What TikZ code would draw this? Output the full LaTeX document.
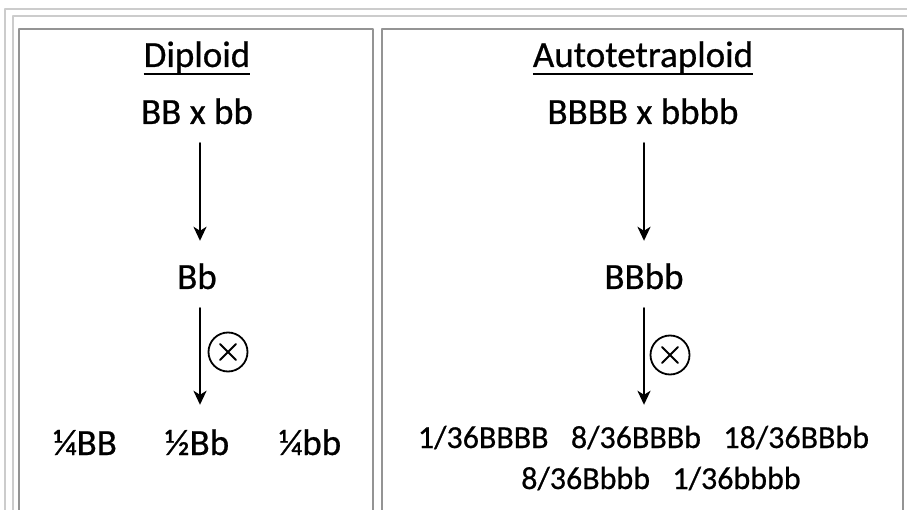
\documentclass[tikz,border=0pt]{standalone}
\usepackage{fontspec}
\setmainfont{Carlito}[FakeBold = 0.6]
\usetikzlibrary{arrows.meta}

% title with a heavier underline
\newcommand\titleline[1]{\setbox0\hbox{#1}\rlap{\rule[-8pt]{\wd0}{2.2pt}}\box0}

\begin{document}
\begin{tikzpicture}[x = 1pt, y = -1pt, line cap = round, line join = round,
  outerline/.style = {draw = black!20, line width = 1.6pt},
  panelline/.style = {draw = black!42, line width = 1.8pt},
  gen/.style = {font = \fontsize{37}{44}\selectfont, anchor = base,
    inner sep = 0pt, text height = 24pt, text depth = 0pt},
  ratiotext/.style = {font = \fontsize{32}{38}\selectfont, anchor = base,
    inner sep = 0pt, text height = 21pt, text depth = 0pt},
  crossarrow/.style = {-{Stealth[length = 14pt, width = 13pt, inset = 4pt]},
    line width = 2.4pt, shorten <= 19pt, shorten >= 24pt},
  selfing/.style = {circle, draw, line width = 1.8pt, minimum size = 39pt,
    inner sep = 0pt, path picture = {
      \draw[line width = 1.8pt]
        ([shift = {(-8pt, -8pt)}]path picture bounding box.center) --
        ([shift = {(8pt, 8pt)}]path picture bounding box.center)
        ([shift = {(-8pt, 8pt)}]path picture bounding box.center) --
        ([shift = {(8pt, -8pt)}]path picture bounding box.center);}}]
  \useasboundingbox (0, 0) rectangle (907, 510);

  % frame lines and the two panels
  \draw[outerline] (5, 515) -- (5, 9) -- (910, 9);
  \draw[outerline] (13, 515) -- (13, 16) -- (910, 16);
  \draw[panelline] (19, 515) -- (19, 29) -- (373, 29) -- (373, 515);
  \draw[panelline] (382, 515) -- (382, 29) -- (903, 29) -- (903, 515);

  % diploid
  \node[gen, text depth = 9pt] (titleL) at (197, 67) {\titleline{Diploid}};
  \node[gen] (crossL) at (197, 124) {BB x bb};
  \node[gen] (hybL) at (197, 289) {Bb};
  \node[gen] (quarterBL) at (85, 455) {¼BB};
  \node[gen] (halfL) at (197, 455) {½Bb};
  \node[gen] (quarterbL) at (310, 455) {¼bb};
  \node[selfing] (selfL) at (228, 352) {};

  \draw[crossarrow] ([xshift = 3pt]crossL.south) -- ([xshift = 3pt]hybL.north);
  \draw[crossarrow, shorten >= 26pt] ([xshift = 3pt]hybL.south) --
    ([xshift = 3pt]halfL.north);

  % autotetraploid
  \node[gen, text depth = 9pt] (titleR) at (643, 67)
    {\titleline{Autotetraploid}};
  \node[gen] (crossR) at (643, 124) {BBBB x bbbb};
  \node[gen] (hybR) at (644, 289) {BBbb};
  \node[ratiotext] (offR1) at (643.5, 448)
    {1/36BBBB\hspace{0.7em}8/36BBBb\hspace{0.7em}18/36BBbb};
  \node[ratiotext] (offR2) at (661, 489) {8/36Bbbb\hspace{0.7em}1/36bbbb};
  \node[selfing] (selfR) at (670, 355) {};

  \draw[crossarrow] ([xshift = 1pt]crossR.south) -- (hybR.north);
  \draw[crossarrow, shorten >= 22pt] (hybR.south) -- (hybR.south |- offR1.north);
\end{tikzpicture}
\end{document}
